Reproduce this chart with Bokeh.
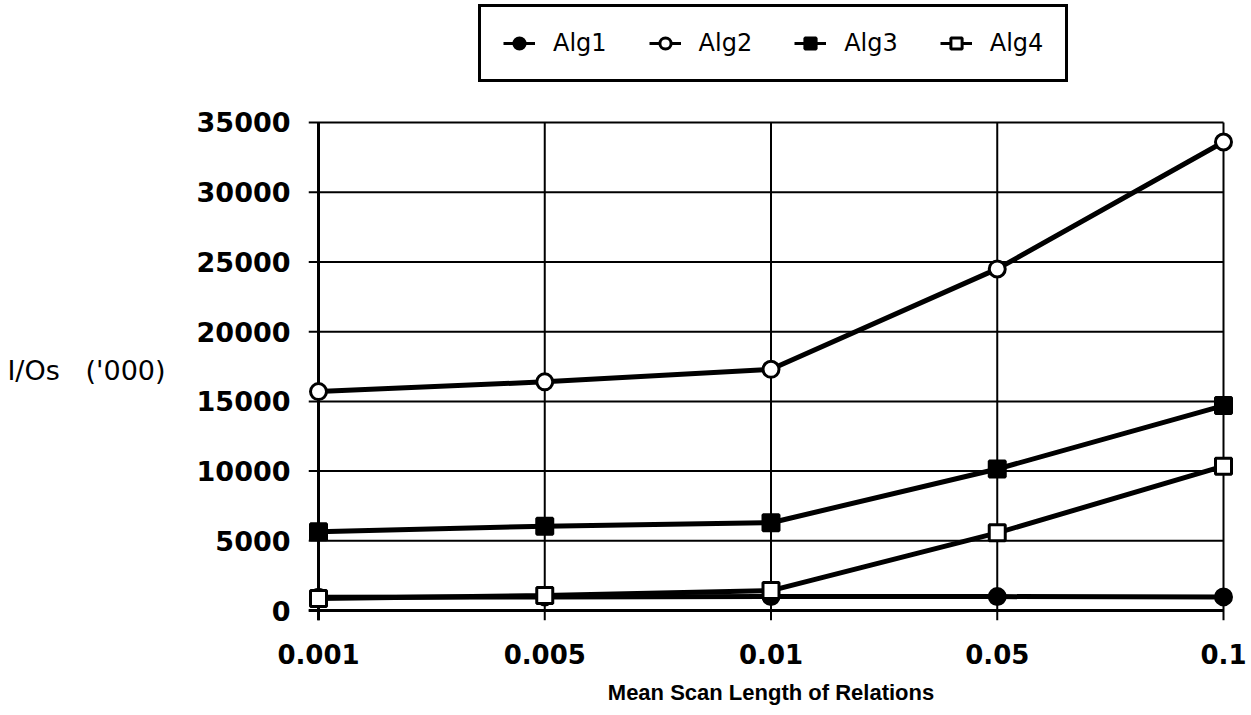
from bokeh.plotting import figure
from bokeh.layouts import column
from bokeh.models import Range1d, FixedTicker, Legend, LegendItem
from bokeh.embed import file_html
from bokeh.resources import INLINE

categories = ["0.001", "0.005", "0.01", "0.05", "0.1"]
alg1 = [950, 980, 1000, 1000, 980]
alg2 = [15700, 16400, 17300, 24500, 33600]
alg3 = [5650, 6050, 6300, 10150, 14700]
alg4 = [860, 1070, 1430, 5570, 10350]
y_ticks = [0, 5000, 10000, 15000, 20000, 25000, 30000, 35000]
series_names = ["Alg1", "Alg2", "Alg3", "Alg4"]

x = list(range(len(categories)))
x_last = x[-1]
y_top = y_ticks[-1]

# small extensions of the grid beyond the axes (act as tick marks)
x_ext = 0.0442
y_ext = 714

FONT = "DejaVu Sans"

styles = [
    dict(marker="circle", fill="black"),
    dict(marker="circle", fill="white"),
    dict(marker="square", fill="black"),
    dict(marker="square", fill="white"),
]
data = [alg1, alg2, alg3, alg4]

# ---------------- legend strip on top ----------------
lf = figure(width=1251, height=100, output_backend="svg", toolbar_location=None,
            x_range=Range1d(0, 1), y_range=Range1d(0, 1),
            x_axis_type=None, y_axis_type=None,
            min_border_left=308, min_border_right=18, min_border_top=0, min_border_bottom=0)
lf.outline_line_color = None
lf.grid.visible = False
items = []
for name, st in zip(series_names, styles):
    # one point far outside the visible range: only the legend glyph shows
    ln = lf.line([-10, -9], [-10, -10], line_color="black", line_width=3)
    sc = lf.scatter([-10], [-10], marker=st["marker"], size=16, fill_color=st["fill"],
                    line_color="black", line_width=3)
    items.append(LegendItem(label=name, renderers=[ln, sc]))

legend = Legend(items=items, orientation="horizontal", location=(170, 18))
legend.label_text_font = FONT
legend.label_text_font_size = "24px"
legend.label_text_color = "black"
legend.border_line_color = "black"
legend.border_line_alpha = 1.0
legend.border_line_width = 3
legend.padding = 22
legend.spacing = 42
legend.label_standoff = 18
legend.glyph_width = 32
legend.glyph_height = 28
legend.margin = 0
legend.background_fill_color = "white"
legend.background_fill_alpha = 1.0
lf.add_layout(legend, "center")

# ---------------- main chart ----------------
p = figure(width=1251, height=607, output_backend="svg", toolbar_location=None,
           x_range=Range1d(-x_ext, x_last + x_ext),
           y_range=Range1d(-y_ext, y_top + 143),
           min_border_left=308, min_border_right=18, min_border_top=20,
           min_border_bottom=85)
p.outline_line_color = None
p.background_fill_color = "white"
p.grid.visible = False

p.xaxis.ticker = FixedTicker(ticks=x)
p.xaxis.major_label_overrides = {i: c for i, c in enumerate(categories)}
p.yaxis.ticker = FixedTicker(ticks=y_ticks)
for ax in (p.xaxis[0], p.yaxis[0]):
    ax.axis_line_color = None
    ax.major_tick_line_color = None
    ax.minor_tick_line_color = None
    ax.major_label_text_font = FONT
    ax.major_label_text_font_style = "bold"
    ax.major_label_text_font_size = "27px"
    ax.major_label_text_color = "black"
p.xaxis.major_label_text_font_size = "26px"

p.xaxis.major_label_standoff = 17
p.xaxis.axis_label = "Mean Scan Length of Relations"
p.xaxis.axis_label_text_font = "Liberation Sans"
p.xaxis.axis_label_text_font_style = "bold"
p.xaxis.axis_label_text_font_size = "22px"
p.xaxis.axis_label_text_color = "black"
p.xaxis.axis_label_standoff = 13

p.yaxis.major_label_standoff = 12
p.yaxis.axis_label = "I/Os\u00a0\u00a0\u00a0('000)"
p.yaxis.axis_label_orientation = "horizontal"
p.yaxis.axis_label_text_font = FONT
p.yaxis.axis_label_text_font_style = "normal"
p.yaxis.axis_label_text_font_size = "27px"
p.yaxis.axis_label_text_color = "black"
p.yaxis.axis_label_standoff = 28

# grid lines (horizontal, extending a little left of the y axis)
p.segment(x0=[-x_ext] * len(y_ticks), y0=y_ticks, x1=[x_last] * len(y_ticks), y1=y_ticks,
          line_color="black", line_width=2)
# vertical grid lines (extending a little below the x axis)
p.segment(x0=x, y0=[-y_ext] * len(x), x1=x, y1=[y_top] * len(x),
          line_color="black", line_width=2)
# thicker axis lines
p.segment(x0=[-x_ext], y0=[0], x1=[x_last], y1=[0], line_color="black", line_width=3)
p.segment(x0=[0], y0=[-y_ext], x1=[0], y1=[y_top], line_color="black", line_width=3)

for name, ys, st in zip(series_names, data, styles):
    p.line(x, ys, line_color="black", line_width=5)
    p.scatter(x, ys, marker=st["marker"], size=16, fill_color=st["fill"],
              line_color="black", line_width=3)

layout = column(lf, p, spacing=0)
open("out.html", "w").write(file_html(layout, INLINE))
